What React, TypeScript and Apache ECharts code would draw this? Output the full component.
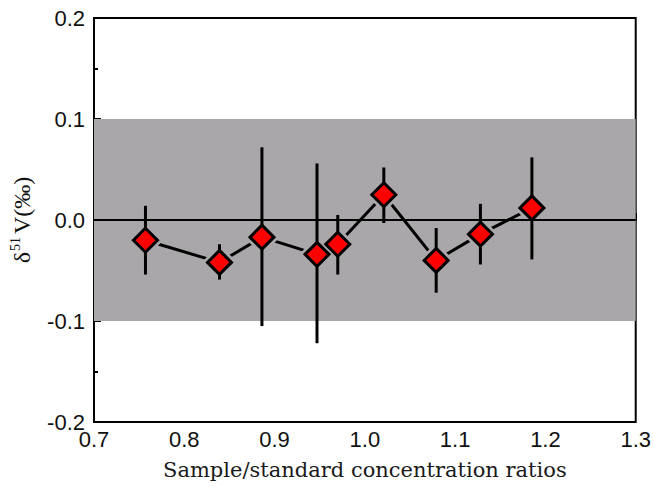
import React, { useEffect, useRef } from "react";
import * as echarts from "echarts";

const ratios = [0.757, 0.839, 0.886, 0.947, 0.970, 1.021, 1.079, 1.128, 1.185];
const delta51V = [-0.020, -0.042, -0.017, -0.034, -0.024, 0.025, -0.040, -0.014, 0.012];
const errLow = [-0.054, -0.059, -0.105, -0.122, -0.054, -0.003, -0.072, -0.044, -0.039];
const errHigh = [0.014, -0.024, 0.072, 0.056, 0.005, 0.052, -0.008, 0.016, 0.062];
const bandRange = [-0.1, 0.1];

const GRAY = "#a9a7a9";

export default function App() {
  const ref = useRef<HTMLDivElement>(null);
  useEffect(() => {
    if (!ref.current) return;
    const chart = echarts.init(ref.current, null, { renderer: "svg" });
    const pts = ratios.map((x, i) => [x, delta51V[i]]);
    const bars = ratios.map((x, i) => [x, errLow[i], errHigh[i]]);
    chart.setOption({
      animation: false,
      backgroundColor: "#fff",
      grid: {
        left: 91,
        right: 17,
        top: 18,
        bottom: 65,
        show: true,
        borderColor: "#000",
        borderWidth: 2,
        backgroundColor: "transparent",
      },
      xAxis: {
        type: "value",
        min: 0.7,
        max: 1.3,
        interval: 0.1,
        name: "Sample/standard concentration ratios",
        nameLocation: "middle",
        nameGap: 37,
        nameTextStyle: { fontFamily: "DejaVu Serif", fontSize: 21, color: "#1a1a1a" },
        axisLine: { show: true, lineStyle: { color: "#000", width: 2 } },
        axisTick: { show: true, inside: true, length: 7, lineStyle: { color: "#000", width: 2 } },
        minorTick: { show: true, splitNumber: 2, length: 4, lineStyle: { color: "#000", width: 2 } },
        splitLine: { show: false },
        axisLabel: {
          fontFamily: "Liberation Sans",
          fontSize: 22,
          color: "#111",
          margin: 6,
          formatter: (v: number) => v.toFixed(1),
        },
      },
      yAxis: {
        type: "value",
        min: -0.2,
        max: 0.2,
        interval: 0.1,
        name: "{d|δ}{s|51}{d|V(‰)}",
        nameLocation: "middle",
        nameGap: 59,
        nameRotate: 90,
        nameTextStyle: {
          rich: {
            d: { fontFamily: "Liberation Serif", fontSize: 24, color: "#111", lineHeight: 27 },
            s: { fontFamily: "Liberation Serif", fontSize: 14, color: "#111", verticalAlign: "top", lineHeight: 27, padding: [0, 3, 0, 1] },
          },
        },
        axisLine: { show: true, lineStyle: { color: "#000", width: 2 } },
        axisTick: { show: true, inside: true, length: 7, lineStyle: { color: "#000", width: 2 } },
        minorTick: { show: true, splitNumber: 2, length: 4, lineStyle: { color: "#000", width: 2 } },
        splitLine: { show: false },
        axisLabel: {
          fontFamily: "Liberation Sans",
          fontSize: 22,
          color: "#111",
          margin: 9,
          formatter: (v: number) => v.toFixed(1),
        },
      },
      series: [
        {
          type: "line",
          data: [],
          z: 0,
          silent: true,
          markArea: {
            silent: true,
            itemStyle: { color: GRAY },
            data: [[{ yAxis: bandRange[0] }, { yAxis: bandRange[1] }]],
          },
        },
        {
          type: "line",
          data: pts,
          z: 1,
          symbol: "none",
          lineStyle: { color: "#000", width: 3 },
        },
        {
          type: "scatter",
          data: pts,
          z: 2,
          symbol: "diamond",
          symbolSize: 36,
          itemStyle: { color: GRAY, opacity: 1 },
          silent: true,
        },
        {
          type: "line",
          data: [],
          z: 3,
          silent: true,
          markLine: {
            silent: true,
            symbol: "none",
            label: { show: false },
            lineStyle: { color: "#000", width: 2, type: "solid" },
            data: [{ yAxis: 0 }],
          },
        },
        {
          type: "custom",
          data: bars,
          z: 4,
          renderItem: (params: any, api: any) => {
            const p1 = api.coord([api.value(0), api.value(1)]);
            const p2 = api.coord([api.value(0), api.value(2)]);
            return {
              type: "line",
              shape: { x1: p1[0], y1: p1[1], x2: p2[0], y2: p2[1] },
              style: { stroke: "#000", lineWidth: 3 },
            };
          },
        },
        {
          type: "scatter",
          data: pts,
          z: 5,
          symbol: "diamond",
          symbolSize: 24,
          itemStyle: { color: "#ff0000", borderColor: "#000", borderWidth: 3, opacity: 1 },
        },
      ],
    });
    return () => chart.dispose();
  }, []);
  return <div ref={ref} style={{ position: "absolute", left: 0, top: 0, width: 654, height: 487 }} />;
}
